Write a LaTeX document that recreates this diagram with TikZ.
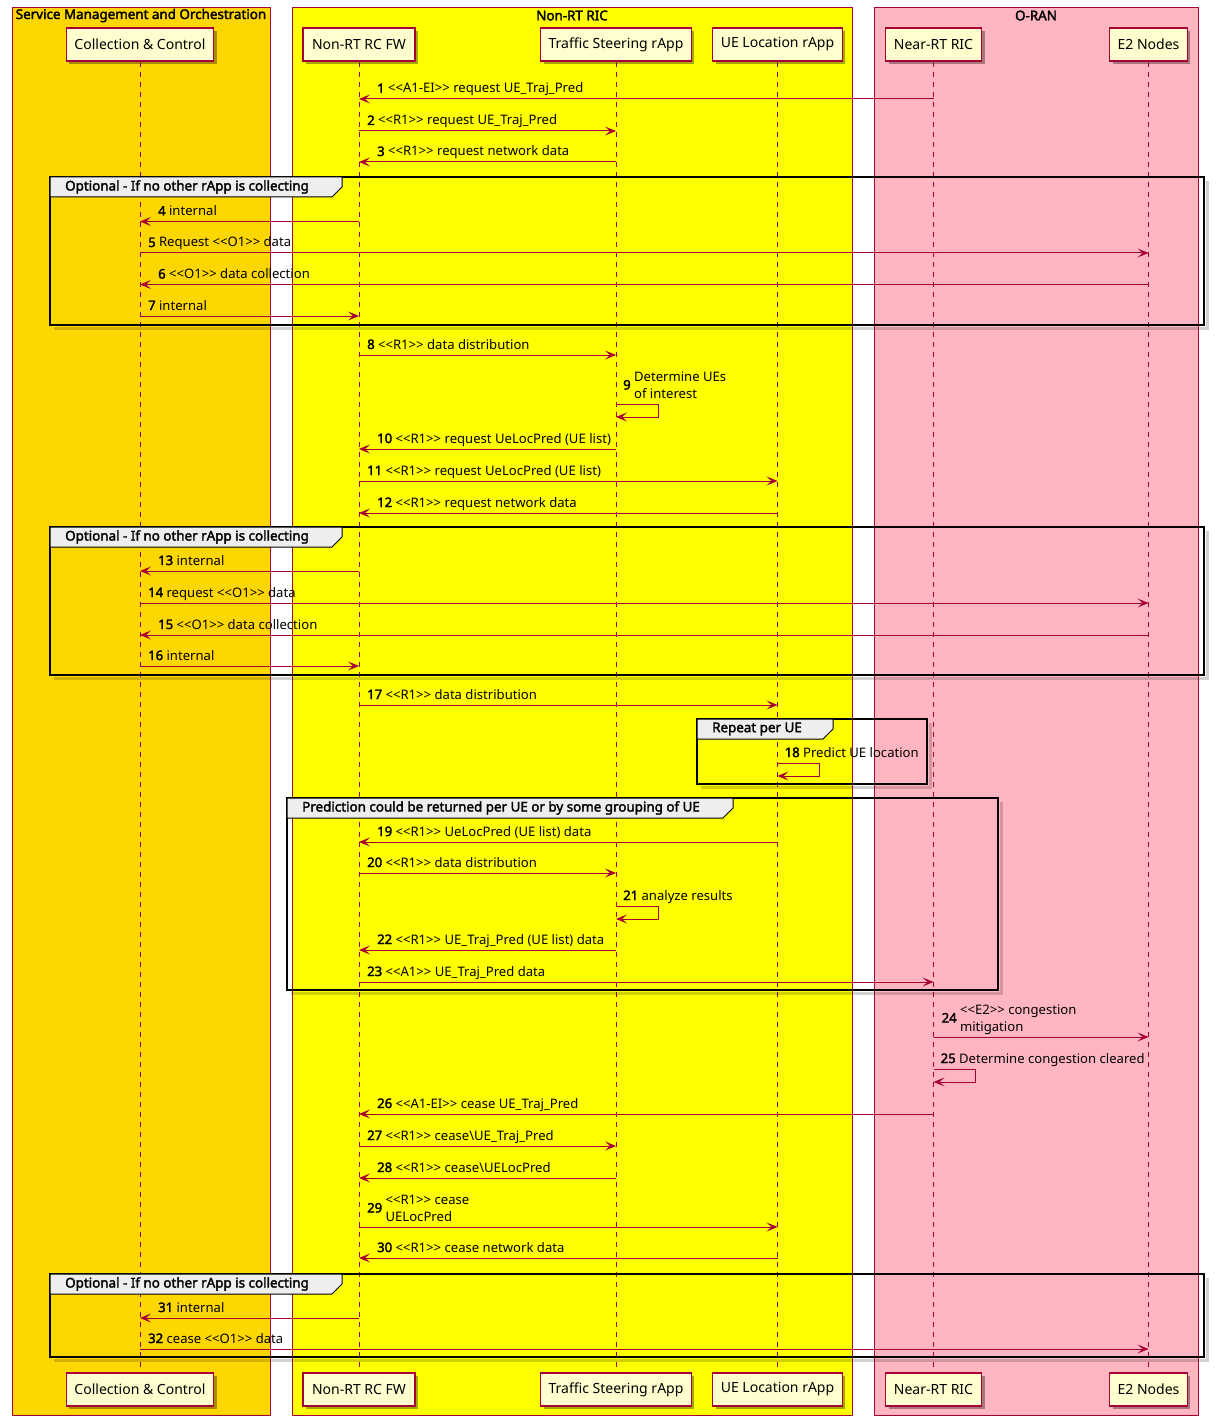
\documentclass[tikz,border=0pt]{standalone}
\usepackage{fontspec}
\newfontfamily\uifont{Noto Sans}[BoldFont={Noto Sans}, BoldFeatures={FakeBold=2.2}]
\usetikzlibrary{arrows.meta,calc,shadows}
\definecolor{crim}{HTML}{A80036}
\definecolor{pfill}{HTML}{FEFECE}
\definecolor{smo}{HTML}{FFD700}
\definecolor{ric}{HTML}{FFFF00}
\definecolor{oran}{HTML}{FFB6C1}
\definecolor{tabfill}{HTML}{EEEEEE}

\tikzset{
  area/.style={draw=crim, line width=0.9pt},
  areatitle/.style={font=\uifont\bfseries\fontsize{13.4}{15}\selectfont, inner sep=0pt},
  party/.style={draw=crim, fill=pfill, line width=1.2pt, minimum height=33pt,
    inner xsep=8pt, font=\uifont\fontsize{14}{16}\selectfont,
    drop shadow={shadow xshift=3pt, shadow yshift=-3pt, opacity=0.35, fill=black}},
  lifeline/.style={draw=crim, line width=0.9pt, dash pattern=on 5pt off 5pt},
  msg/.style={draw=crim, line width=1pt, -{Stealth[length=11pt,width=9pt,inset=5pt]}},
  mtext/.style={anchor=base west, inner sep=0pt, font=\uifont\fontsize{13.1}{15}\selectfont},
  mnum/.style={anchor=base west, inner sep=0pt, font=\uifont\bfseries\fontsize{13.1}{15}\selectfont},
  gframe/.style={draw=black, line width=2pt},
  gshadow/.style={draw=black, line width=3pt, opacity=0.18},
  gtab/.style={draw=black, fill=tabfill, line width=1pt},
  glabel/.style={anchor=west, inner sep=0pt, font=\uifont\bfseries\fontsize{13.4}{15}\selectfont},
}

% message to the right: label starts just past the sender
\newcommand{\msgR}[4]{%
  \draw[msg] (#1 |- 0,#3) -- (#2 |- 0,#3);
  \node[mtext] at ($(#1 |- 0,#3)+(8,-6)$) {#4};}
% message to the left: label starts past the arrowhead
\newcommand{\msgL}[4]{%
  \draw[msg] (#1 |- 0,#3) -- (#2 |- 0,#3);
  \node[mtext] at ($(#2 |- 0,#3)+(18,-6)$) {#4};}
% message to oneself
\newcommand{\msgS}[3]{%
  \draw[msg] (#1 |- 0,#2) -- ++(42,0) -- ++(0,13) -- ++(-42,0);
  \node[mtext] at ($(#1 |- 0,#2)+(7,-6)$) {#3};}
% two-line label, number centred beside the text
\newcommand{\twolines}[5]{% anchor point, name, number, line1, line2
  \node[mnum] (#2) at ($#1+(0,-8.5)$) {#3};
  \node[mtext] at ($(#2.base east)+(3,-8.5)$) {#4};
  \node[mtext] at ($(#2.base east)+(3,8.5)$) {#5};}
% group frame with its tab
\newcommand{\grp}[6]{% x1,y1,x2,y2,tab right,label
  \draw[gshadow] (#1+4,#4+3) -- (#3+3,#4+3) -- (#3+3,#2+4);
  \draw[gframe] (#1,#2) rectangle (#3,#4);
  \draw[gtab] (#1,#2) -- (#5,#2) -- (#5,#2+10) -- (#5-10,#2+20) -- (#1,#2+20) -- cycle;
  \node[glabel] at (#1+15,#2+10) {#6};}

\begin{document}
\begin{tikzpicture}[x=1pt,y=-1pt]
\useasboundingbox[fill=white] (0,0) rectangle (1217,1420);

% participant areas
\draw[area, fill=smo] (12,7) rectangle (270,1415);
\draw[area, fill=ric] (292,7) rectangle (852,1415);
\draw[area, fill=oran] (874,7) rectangle (1198,1415);
\node[areatitle] (tsmo) at (141,15.5) {Service Management and Orchestration};
\node[areatitle] (tric) at (572,15.5) {Non-RT RIC};
\node[areatitle] (tran) at (1036,15.5) {O-RAN};

% participants, top and bottom
\node[party, minimum width=147pt] (cc) at (140,44.5) {Collection \& Control};
\node[party, minimum width=112pt] (fw) at (359,44.5) {Non-RT RC FW};
\node[party, minimum width=148pt] (ts) at (616,44.5) {Traffic Steering rApp};
\node[party, minimum width=127pt] (ue) at (777.5,44.5) {UE Location rApp};
\node[party, minimum width=96pt] (nr) at (933.5,44.5) {Near-RT RIC};
\node[party, minimum width=77pt] (e2) at (1148.5,44.5) {E2 Nodes};

\node[party, minimum width=147pt] (cc2) at (140,1389.5) {Collection \& Control};
\node[party, minimum width=112pt] (fw2) at (359,1389.5) {Non-RT RC FW};
\node[party, minimum width=148pt] (ts2) at (616,1389.5) {Traffic Steering rApp};
\node[party, minimum width=127pt] (ue2) at (777.5,1389.5) {UE Location rApp};
\node[party, minimum width=96pt] (nr2) at (933.5,1389.5) {Near-RT RIC};
\node[party, minimum width=77pt] (e22) at (1148.5,1389.5) {E2 Nodes};

% lifelines
\foreach \p in {cc,fw,ts,ue,nr,e2}
  \draw[lifeline] (\p.south) -- (\p2.north);

% groups
\grp{50}{177}{1204}{325}{342}{Optional - If no other rApp is collecting}
\grp{50}{527}{1204}{675}{342}{Optional - If no other rApp is collecting}
\grp{697}{719}{927}{784}{833}{Repeat per UE}
\grp{287}{798}{998}{990}{733}{Prediction could be returned per UE or by some grouping of UE}
\grp{50}{1274}{1204}{1357}{342}{Optional - If no other rApp is collecting}

% messages
\msgL{nr}{fw}{99}{\textbf{1} <<A1-EI>> request UE\_Traj\_Pred}
\msgR{fw}{ts}{131}{\textbf{2} <<R1>> request UE\_Traj\_Pred}
\msgL{ts}{fw}{162}{\textbf{3} <<R1>> request network data}
\msgL{fw}{cc}{221.5}{\textbf{4} internal}
\msgR{cc}{e2}{253}{\textbf{5} Request <<O1>> data}
\msgL{e2}{cc}{284.5}{\textbf{6} <<O1>> data collection}
\msgR{cc}{fw}{316}{\textbf{7} internal}
\msgR{fw}{ts}{355}{\textbf{8} <<R1>> data distribution}
\msgS{ts}{404}{}
\twolines{(623,398)}{n9}{9}{Determine UEs}{of interest}
\msgL{ts}{fw}{449}{\textbf{10} <<R1>> request UeLocPred (UE list)}
\msgR{fw}{ue}{481}{\textbf{11} <<R1>> request UeLocPred (UE list)}
\msgL{ue}{fw}{513}{\textbf{12} <<R1>> request network data}
\msgL{fw}{cc}{571}{\textbf{13} internal}
\msgR{cc}{e2}{603}{\textbf{14} request <<O1>> data}
\msgL{e2}{cc}{635}{\textbf{15} <<O1>> data collection}
\msgR{cc}{fw}{666}{\textbf{16} internal}
\msgR{fw}{ue}{705}{\textbf{17} <<R1>> data distribution}
\msgS{ue}{763}{\textbf{18} Predict UE location}
\msgL{ue}{fw}{842}{\textbf{19} <<R1>> UeLocPred (UE list) data}
\msgR{fw}{ts}{873}{\textbf{20} <<R1>> data distribution}
\msgS{ts}{906}{\textbf{21} analyze results}
\msgL{ts}{fw}{950}{\textbf{22} <<R1>> UE\_Traj\_Pred (UE list) data}
\msgR{fw}{nr}{982}{\textbf{23} <<A1>> UE\_Traj\_Pred data}
\msgR{nr}{e2}{1037}{}
\twolines{(941.5,1031)}{n24}{24}{<<E2>> congestion}{mitigation}
\msgS{nr}{1069}{\textbf{25} Determine congestion cleared}
\msgL{nr}{fw}{1114}{\textbf{26} <<A1-EI>> cease UE\_Traj\_Pred}
\msgR{fw}{ts}{1146}{\textbf{27} <<R1>> cease\textbackslash UE\_Traj\_Pred}
\msgL{ts}{fw}{1178}{\textbf{28} <<R1>> cease\textbackslash UELocPred}
\msgR{fw}{ue}{1227}{}
\twolines{(367,1221)}{n29}{29}{<<R1>> cease}{UELocPred}
\msgL{ue}{fw}{1258}{\textbf{30} <<R1>> cease network data}
\msgL{fw}{cc}{1318}{\textbf{31} internal}
\msgR{cc}{e2}{1349}{\textbf{32} cease <<O1>> data}
\end{tikzpicture}
\end{document}
